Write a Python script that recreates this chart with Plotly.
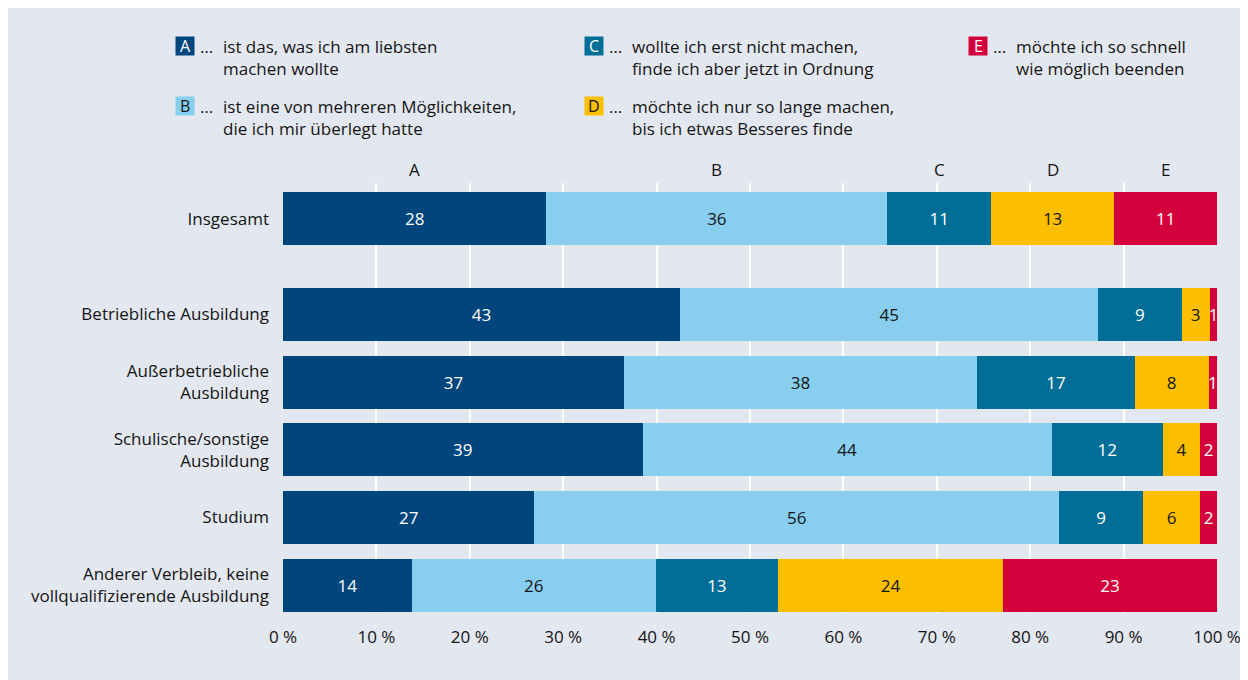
import plotly.graph_objects as go

# ---- data ----
categories = [
    "Insgesamt",
    "Betriebliche Ausbildung",
    "Außerbetriebliche<br>Ausbildung",
    "Schulische/sonstige<br>Ausbildung",
    "Studium",
    "Anderer Verbleib, keine<br>vollqualifizierende Ausbildung",
]
series_keys = ["A", "B", "C", "D", "E"]
# bar widths in percent (as drawn)
val_A = [28.2, 42.5, 36.5, 38.5, 26.9, 13.8]
val_B = [36.5, 44.8, 37.8, 43.8, 56.2, 26.1]
val_C = [11.1, 8.9, 16.9, 11.9, 9.0, 13.1]
val_D = [13.2, 3.0, 7.9, 4.0, 6.1, 24.1]
val_E = [11.0, 0.9, 0.9, 1.8, 1.8, 22.9]
# printed labels
lab_A = [28, 43, 37, 39, 27, 14]
lab_B = [36, 45, 38, 44, 56, 26]
lab_C = [11, 9, 17, 12, 9, 13]
lab_D = [13, 3, 8, 4, 6, 24]
lab_E = [11, 1, 1, 2, 2, 23]
legend_texts = [
    "ist das, was ich am liebsten<br>machen wollte",
    "ist eine von mehreren Möglichkeiten,<br>die ich mir überlegt hatte",
    "wollte ich erst nicht machen,<br>finde ich aber jetzt in Ordnung",
    "möchte ich nur so lange machen,<br>bis ich etwas Besseres finde",
    "möchte ich so schnell<br>wie möglich beenden",
]
x_ticks = [0, 10, 20, 30, 40, 50, 60, 70, 80, 90, 100]
x_ticklabels = [f"{v} %" for v in x_ticks]

# ---- style ----
colors = ["#00457C", "#87CEEF", "#006E96", "#FBBF00", "#D3003C"]
text_colors = ["white", "#141414", "white", "#141414", "white"]
box_text_colors = ["white", "#141414", "white", "#141414", "white"]
BG = "#E3E7F0"
FONT = "Open Sans"
DARK = "#141414"
FS = 17
y_pos = [0, 1.41, 2.41, 3.41, 4.41, 5.41]

W, H = 1248, 680
OX, OY = 8, 8  # page offset of the figure
L, R, T, B = 275, 39, 175, 75
PW, PH = W - L - R, H - T - B


def px(p):  # screen pixel -> paper x
    return (p - OX - L) / PW


def py(p):  # screen pixel -> paper y
    return (H - B - (p - OY)) / PH


values = [val_A, val_B, val_C, val_D, val_E]
labels = [lab_A, lab_B, lab_C, lab_D, lab_E]

fig = go.Figure()
for k, v, lab, c, tc in zip(series_keys, values, labels, colors, text_colors):
    fig.add_trace(go.Bar(
        name=k, y=y_pos, x=v, orientation="h",
        marker=dict(color=c, line=dict(width=0)),
        text=[str(t) for t in lab], textposition="inside",
        insidetextanchor="middle",
        textfont=dict(color=tc, size=FS, family=FONT),
        width=0.78, hoverinfo="skip",
    ))

annotations = []
shapes = []

# top category letters at centers of first row
cum = 0
for k, v in zip(series_keys, values):
    center = cum + v[0] / 2
    cum += v[0]
    annotations.append(dict(x=center, y=py(169), xref="x", yref="paper",
                            text=k, showarrow=False, xanchor="center", yanchor="middle",
                            font=dict(family=FONT, size=FS, color=DARK)))

# custom legend
leg_pos = [(185, 46), (185, 106), (594, 46), (594, 106), (978, 46)]
for k, (cx, cy), c, btc, txt in zip(series_keys, leg_pos, colors, box_text_colors, legend_texts):
    s = 9.5
    shapes.append(dict(type="rect", xref="paper", yref="paper",
                       x0=px(cx - s), x1=px(cx + s), y0=py(cy + s), y1=py(cy - s),
                       fillcolor=c, line=dict(width=0)))
    annotations.append(dict(x=px(cx), y=py(cy), xref="paper", yref="paper",
                            text=k, showarrow=False, xanchor="center", yanchor="middle",
                            font=dict(family=FONT, size=16, color=btc)))
    annotations.append(dict(x=px(cx + 13), y=py(cy), xref="paper", yref="paper",
                            text="…", showarrow=False, xanchor="left", yanchor="middle",
                            font=dict(family=FONT, size=FS, color=DARK)))
    annotations.append(dict(x=px(cx + 36), y=py(cy - 13), xref="paper", yref="paper",
                            text=txt, showarrow=False, xanchor="left", yanchor="top",
                            align="left",
                            font=dict(family=FONT, size=FS, color=DARK)))

fig.update_layout(
    width=W, height=H,
    margin=dict(l=L, r=R, t=T, b=B, pad=0),
    barmode="stack",
    paper_bgcolor=BG,
    plot_bgcolor=BG,
    showlegend=False,
    font=dict(family=FONT, size=FS, color=DARK),
    uniformtext=dict(mode="show", minsize=FS),
    shapes=shapes,
    annotations=annotations,
    xaxis=dict(range=[0, 100], tickvals=x_ticks, ticktext=x_ticklabels,
               showgrid=True, gridcolor="white", gridwidth=2,
               zeroline=False, showline=False, ticks="", ticklabelstandoff=12,
               tickfont=dict(family=FONT, size=FS, color=DARK), fixedrange=True),
    yaxis=dict(range=[5.82, -0.53], tickvals=y_pos, ticktext=categories,
               showgrid=False, zeroline=False, showline=False, ticks="",
               ticklabelstandoff=13,
               tickfont=dict(family=FONT, size=FS, color=DARK), fixedrange=True),
)

fig.write_html("out.html")
